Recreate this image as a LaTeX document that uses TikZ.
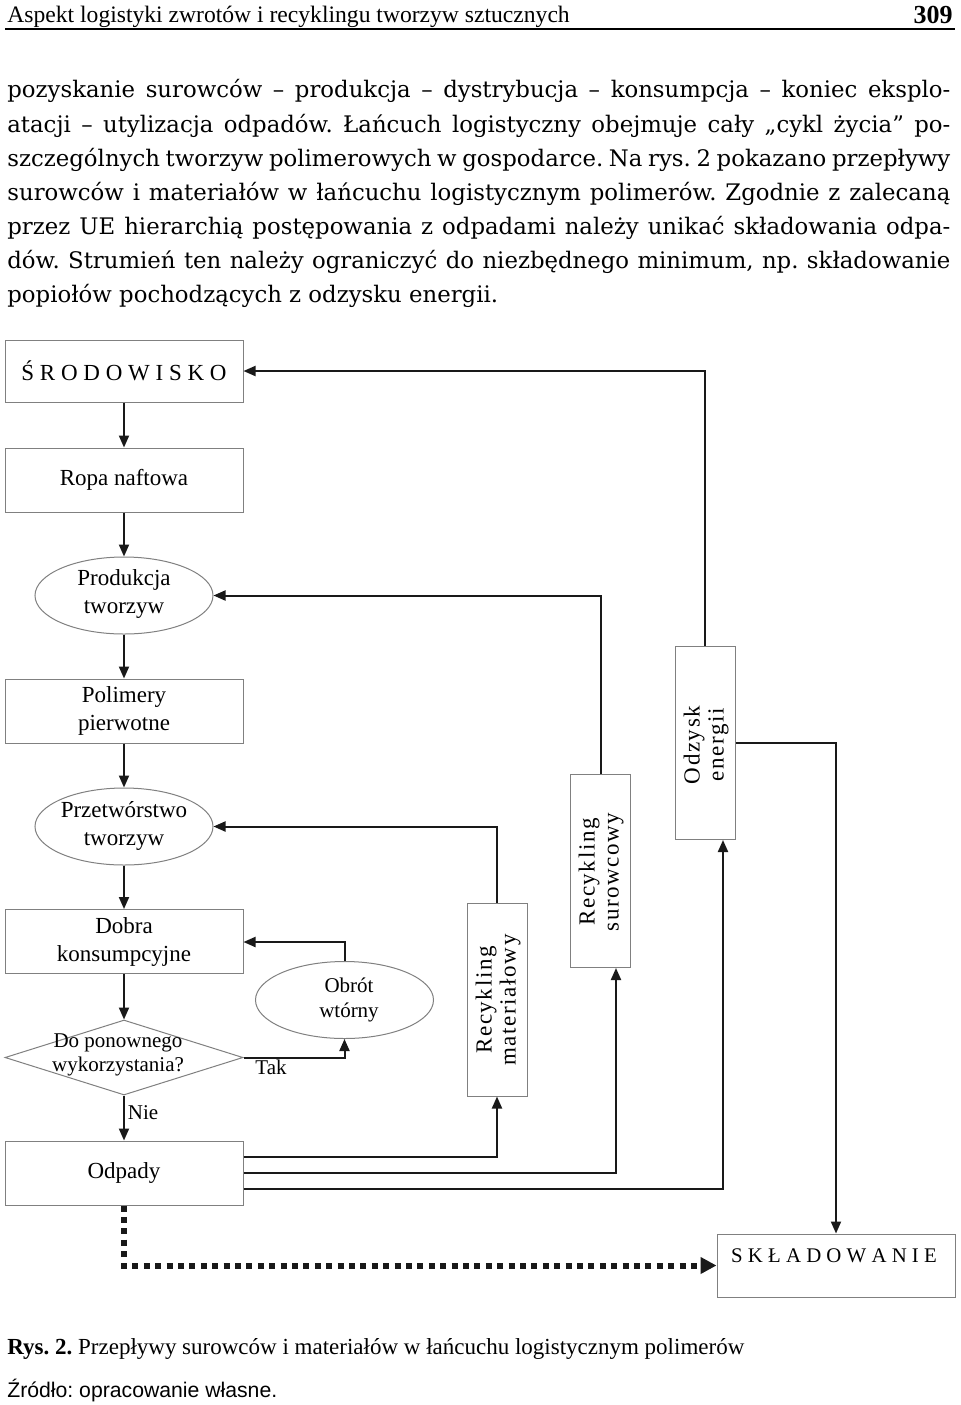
\documentclass[tikz,border=0pt]{standalone}
\usepackage{fontspec}
\setmainfont{Liberation Serif}
\newfontfamily\bodyfont{DejaVu Serif}
\newfontfamily\srcfont{Liberation Sans}
\usetikzlibrary{shapes.geometric,arrows.meta,calc}
\frenchspacing
\begin{document}
\frenchspacing
\begin{tikzpicture}[x=0.5pt,y=-0.5pt,
 box/.style={draw=black!50,line width=0.5pt,minimum width=119pt,minimum height=32pt,inner sep=0pt,align=center,font=\fontsize{11.5}{14}\selectfont},
 oval/.style={ellipse,draw=black!50,line width=0.5pt,minimum width=89pt,minimum height=38.5pt,inner sep=0pt},
 vbox/.style={draw=black!50,line width=0.5pt,minimum width=30pt,minimum height=96.5pt,inner sep=0pt},
 txt/.style={font=\fontsize{11.5}{14}\selectfont,align=center,inner sep=0pt},
 small/.style={font=\fontsize{10.5}{12.5}\selectfont,align=center,inner sep=0pt},
 rtxt/.style={font=\fontsize{11.5}{12}\selectfont\addfontfeature{LetterSpace=7},align=center,rotate=90,inner sep=0pt},
 conn/.style={line width=1pt,draw=black!90,-{Triangle[length=6pt,width=5pt]}},
 dots/.style={line width=3pt,draw=black!90,dash pattern=on 3pt off 2.7pt,-{Triangle[length=8pt,width=8pt]}},
 body/.style={anchor=base west,inner sep=0pt,font=\bodyfont\fontsize{11.4}{14}\selectfont}
]
\fill[white] (0,0) rectangle (960,1405);
\useasboundingbox (0,0) rectangle (960,1405);

% header
\node[anchor=base west,inner sep=0pt,font=\fontsize{11.8}{14}\selectfont] (head) at (7,22) {Aspekt logistyki zwrotów i recyklingu tworzyw sztucznych};
\node[anchor=base east,inner sep=0pt,font=\fontsize{13}{14}\selectfont\bfseries] (pg) at (953,23) {309};
\coordinate (rl) at (5,29);
\coordinate (rr) at (955,29);
\draw[line width=0.9pt] (rl) -- (rr);

% body text
\node[body] (b1) at (7,97) {\makebox[471.5pt][s]{pozyskanie surowców – produkcja – dystrybucja – konsumpcja – koniec eksplo-}};
\node[body] (b2) at (7,132) {\makebox[471.5pt][s]{atacji – utylizacja odpadów. Łańcuch logistyczny obejmuje cały „cykl życia” po-}};
\node[body] (b3) at (7,166) {\makebox[471.5pt][s]{szczególnych tworzyw polimerowych w gospodarce. Na rys. 2 pokazano przepływy}};
\node[body] (b4) at (7,200) {\makebox[471.5pt][s]{surowców i materiałów w łańcuchu logistycznym polimerów. Zgodnie z zalecaną}};
\node[body] (b5) at (7,234) {\makebox[471.5pt][s]{przez UE hierarchią postępowania z odpadami należy unikać składowania odpa-}};
\node[body] (b6) at (7,268) {\makebox[471.5pt][s]{dów. Strumień ten należy ograniczyć do niezbędnego minimum, np. składowanie}};
\node[body] (b7) at (7,302) {popiołów pochodzących z odzysku energii.};

% diagram nodes
\node[box,minimum height=31pt] (srod) at (124,371) {Ś R O D O W I S K O};
\node[box] (ropa) at (124,480) {Ropa naftowa};
\node[oval] (prod) at (124,595.5) {};
\node[txt] (prodt) at (124,594) {Produkcja\\tworzyw};
\node[box] (pol) at (124,711) {Polimery\\pierwotne};
\node[oval] (prz) at (124,826.5) {};
\node[txt] (przt) at (124,826) {Przetwórstwo\\tworzyw};
\node[box] (dob) at (124,941.5) {Dobra\\konsumpcyjne};
\node[diamond,draw=black!50,line width=0.5pt,minimum width=119pt,minimum height=37.5pt,inner sep=0pt,aspect=3.17] (dec) at (124,1057.5) {};
\node[small,font=\fontsize{10.5}{12}\selectfont] (dect) at (118,1055) {Do ponownego\\wykorzystania?};
\node[box] (odp) at (124,1173) {Odpady};
\node[oval] (obr) at (344.5,1000) {};
\node[small] (obrt) at (349,1000) {Obrót\\wtórny};
\node[vbox] (rmat) at (497,999.5) {};
\node[rtxt] (rmatt) at (498,1000) {Recykling\\materiałowy};
\node[vbox] (rsur) at (600.5,871) {};
\node[rtxt] (rsurt) at (601,872) {Recykling\\surowcowy};
\node[vbox] (oe) at (705,743) {};
\node[rtxt] (oet) at (706,745) {Odzysk\\energii};
\node[box,minimum height=31.5pt] (skl) at (836,1265.5) {};
\node[txt,font=\fontsize{10.4}{12}\selectfont] (sklt) at (834,1256) {S K Ł A D O W A N I E};
\node[small] (nie) at (143,1113) {Nie};
\node[small] (tak) at (271,1067) {Tak};

% connectors
\draw[conn] (srod) -- (ropa);
\draw[conn] (ropa) -- (prod);
\draw[conn] (prod) -- (pol);
\draw[conn] (pol) -- (prz);
\draw[conn] (prz) -- (dob);
\draw[conn] (dob) -- (dec);
\draw[conn] (dec) -- (odp);
\draw[conn] (dec.east) -| (obr.south);
\coordinate (k1) at (344.5,942);
\draw[conn] (obr.north) -- (k1) -- (dob.east |- k1);
\draw[conn] (rmat.north) |- (prz.east);
\draw[conn] (rsur.north) |- (prod.east);
\draw[conn] (oe.north) |- (srod.east);
\draw[conn] (oe.east) -| (skl.north);
\coordinate (a1) at (497,1157);
\coordinate (a2) at (616,1173);
\coordinate (a3) at (723,1189);
\draw[conn] (odp.east |- a1) -| (rmat.south);
\draw[conn] (odp.east) -- (a2) -- (a2 |- rsur.south);
\draw[conn] (odp.east |- a3) -- (a3) -- (a3 |- oe.south);
\draw[dots] (odp.south) |- (skl.west);

% caption
\node[anchor=base west,inner sep=0pt,font=\fontsize{11.5}{14}\selectfont] (cap) at (7,1354) {\textbf{Rys. 2.} Przepływy surowców i materiałów w łańcuchu logistycznym polimerów};
\node[anchor=base west,inner sep=0pt,font=\srcfont\fontsize{10.6}{13}\selectfont] (src) at (7,1397) {Źródło: opracowanie własne.};
\end{tikzpicture}
\end{document}
